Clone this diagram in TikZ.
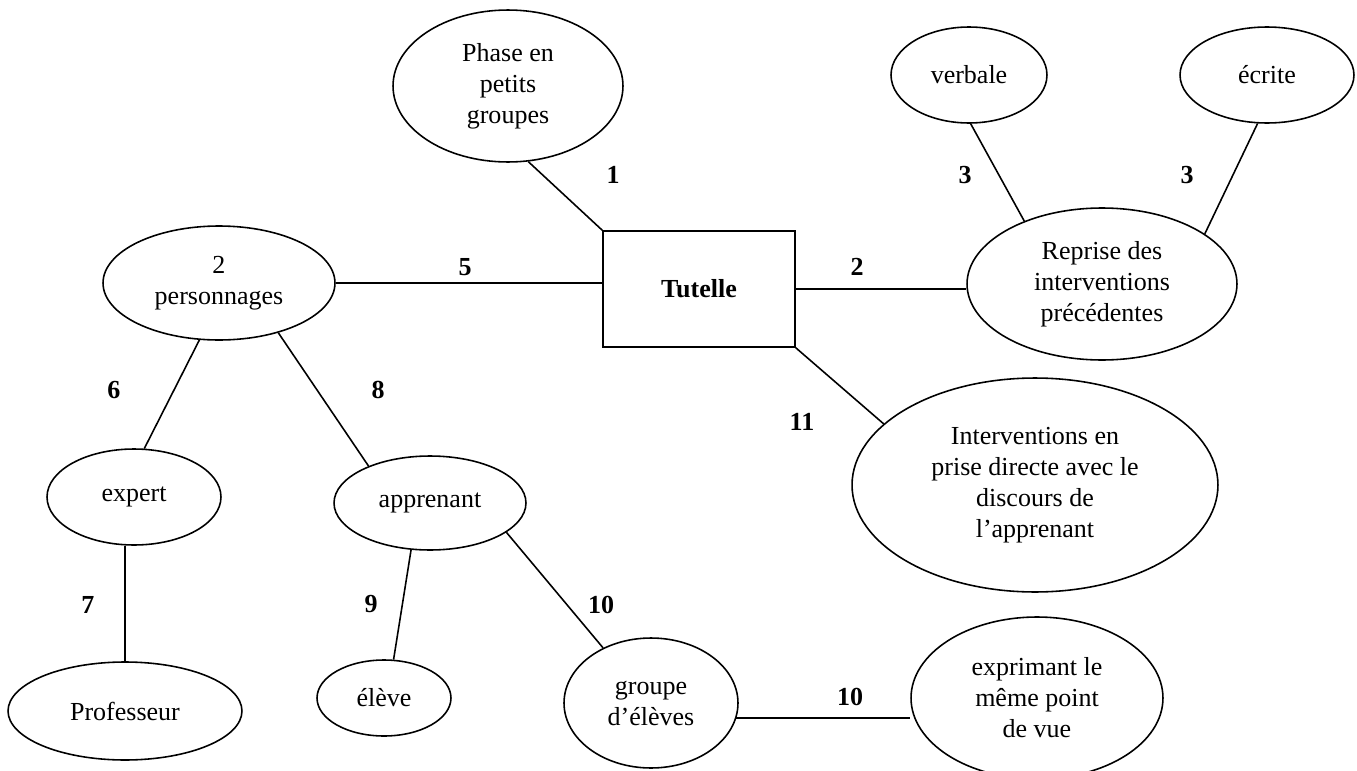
\documentclass[tikz,border=0pt]{standalone}
\usepackage{fontspec}
\setmainfont{Liberation Serif}
\usetikzlibrary{shapes.geometric}

\begin{document}
\begin{tikzpicture}[
  x=0.02cm, y=-0.02cm,
  oval/.style={draw=black, ellipse, line width=0.9pt, align=center, inner sep=1pt,
    font=\fontsize{14.8}{17.6}\selectfont},
  box/.style={draw=black, rectangle, line width=0.9pt, minimum width=3.84cm,
    minimum height=2.32cm, font=\fontsize{14.8}{17.6}\selectfont\bfseries},
  link/.style={draw=black, line width=0.9pt},
  num/.style={font=\fontsize{14.8}{17.6}\selectfont\bfseries, inner sep=0pt}
]
\useasboundingbox (0,0) rectangle (1357,771);

\node[box] (tutelle) at (699,289) {Tutelle};
\node[oval, minimum width=4.6cm, minimum height=3.04cm] (phase) at (508,86) {Phase en\\petits\\groupes};
\node[oval, minimum width=3.12cm, minimum height=1.92cm] (verbale) at (969,75) {verbale};
\node[oval, minimum width=3.48cm, minimum height=1.92cm] (ecrite) at (1267,75) {écrite};
\node[oval, minimum width=5.4cm, minimum height=3.04cm] (reprise) at (1102,284) {Reprise des\\interventions\\précédentes};
\node[oval, minimum width=4.64cm, minimum height=2.28cm] (pers) at (219,283) {2\\personnages};
\node[oval, minimum width=7.32cm, minimum height=4.28cm] (interv) at (1035,485) {Interventions en\\prise directe avec le\\discours de\\l’apprenant};
\node[oval, minimum width=3.48cm, minimum height=1.92cm] (expert) at (134,497) {expert};
\node[oval, minimum width=3.84cm, minimum height=1.88cm] (apprenant) at (430,503) {apprenant};
\node[oval, minimum width=4.68cm, minimum height=1.96cm] (prof) at (125,711) {Professeur};
\node[oval, minimum width=2.68cm, minimum height=1.52cm] (eleve) at (384,698) {élève};
\node[oval, minimum width=3.48cm, minimum height=2.6cm] (groupe) at (651,703) {groupe\\d’élèves};
\node[oval, minimum width=5.04cm, minimum height=3.24cm] (expr) at (1037,698) {exprimant le\\même point\\de vue};

\draw[link] (phase.-75) -- (tutelle.north west);
\draw[link] (verbale.-88) -- (reprise.141);
\draw[link] (ecrite.-101) -- (reprise.26);
\draw[link] (pers.east) -- (pers.east -| tutelle.west);
\draw[link] (tutelle.east) -- (tutelle.east -| reprise.west);
\draw[link] (tutelle.south east) -- (interv.158);
\draw[link] (pers.-109) -- (expert.78);
\draw[link] (pers.-40) -- (apprenant.149);
\draw[link] (prof.north) -- (prof.north |- expert.south);
\draw[link] (apprenant.-112) -- (eleve.76);
\draw[link] (apprenant.-21) -- (groupe.131);
\draw[link] (groupe.-10) -- (groupe.-10 -| expr.west);

% numeros des liens
\node[num] (n1) at (613,175) {1};
\node[num] (n3a) at (965,175) {3};
\node[num] (n3b) at (1187,175) {3};
\node[num] (n5) at (465,267) {5};
\node[num] (n2) at (857,267) {2};
\node[num] (n6) at (114,390) {6};
\node[num] (n8) at (378,390) {8};
\node[num] (n11) at (802,422) {11};
\node[num] (n7) at (88,605) {7};
\node[num] (n9) at (371,604) {9};
\node[num] (n10a) at (601,605) {10};
\node[num] (n10b) at (850,697) {10};
\end{tikzpicture}
\end{document}
